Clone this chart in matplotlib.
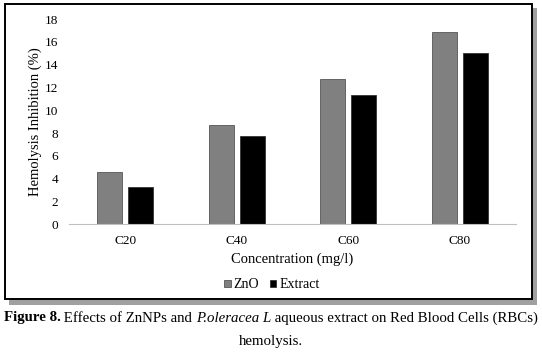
import numpy as np
import matplotlib
matplotlib.use('Agg')
import matplotlib.pyplot as plt
from matplotlib.patches import Rectangle

# data
categories = ['C20', 'C40', 'C60', 'C80']
zno = [4.6, 8.7, 12.75, 16.85]
extract = [3.3, 7.75, 11.35, 15.0]

plt.rcParams['font.family'] = ['Liberation Serif', 'DejaVu Serif']

W, H = 542, 359
fig = plt.figure(figsize=(W / 100, H / 100), dpi=100)

# frame around the chart, with a grey shadow
fig.patches.append(Rectangle((9 / W, 1 - 305 / H), 528 / W, 297 / H, transform=fig.transFigure,
                             facecolor='#a0a0a0', edgecolor='none', zorder=0))
fig.patches.append(Rectangle((5 / W, 1 - 299 / H), 527 / W, 295 / H, transform=fig.transFigure,
                             facecolor='white', edgecolor='black', lw=1.4, zorder=1))

ax = fig.add_axes([69.3 / W, 1 - 224.3 / H, 446.4 / W, 205.3 / H])
ax.set_zorder(2)
ax.patch.set_alpha(0)

x = np.arange(len(categories))
w = 0.224
off = 0.14
ax.bar(x - off, zno, w, color='#808080', edgecolor='#555555', lw=0.6, label='ZnO')
ax.bar(x + off, extract, w, color='black', edgecolor='#333333', lw=0.6, label='Extract')

ax.set_xlim(-0.5, 3.5)
ax.set_ylim(0, 18)
ax.set_yticks(range(0, 19, 2))
ax.set_xticks(x)
ax.set_xticklabels(categories)
ax.tick_params(axis='both', length=0, labelsize=9.5)
ax.tick_params(axis='x', pad=8)
ax.tick_params(axis='y', pad=8)
for s in ['top', 'right', 'left']:
    ax.spines[s].set_visible(False)
ax.spines['bottom'].set_color('#bfbfbf')
ax.set_ylabel('Hemolysis Inhibition (%)', fontsize=10.5, va='center')
ax.yaxis.set_label_coords(-34.3 / 446.4, 0.5)
ax.set_xlabel('Concentration (mg/l)', fontsize=10.5, labelpad=4)

ax.legend(loc='center', bbox_to_anchor=(272 / W, 1 - 285 / H), bbox_transform=fig.transFigure,
          ncol=2, frameon=False, fontsize=10, handlelength=0.45, handleheight=0.45,
          handletextpad=0.2, columnspacing=0.8, borderaxespad=0, borderpad=0)

# caption built from pieces so the styles can differ
fig.canvas.draw()
r = fig.canvas.get_renderer()
pieces = [('Figure 8.', 'bold', 'normal'),
          (' Effects of ZnNPs and ', 'normal', 'normal'),
          ('P.oleracea L', 'normal', 'italic'),
          (' aqueous extract on Red Blood Cells (RBCs)', 'normal', 'normal')]
texts = []
for s, wt, st in pieces:
    t = fig.text(0, 1 - 318 / H, s, fontsize=10.75, fontweight=wt, fontstyle=st, va='center')
    texts.append(t)
widths = [t.get_window_extent(r).width for t in texts]
x0 = (W - sum(widths)) / 2
for t, wd in zip(texts, widths):
    t.set_x(x0 / W)
    x0 += wd
fig.text(0.5, 1 - 342 / H, 'hemolysis.', fontsize=10.75, ha='center', va='center')

fig.savefig('out.png', dpi=100)
